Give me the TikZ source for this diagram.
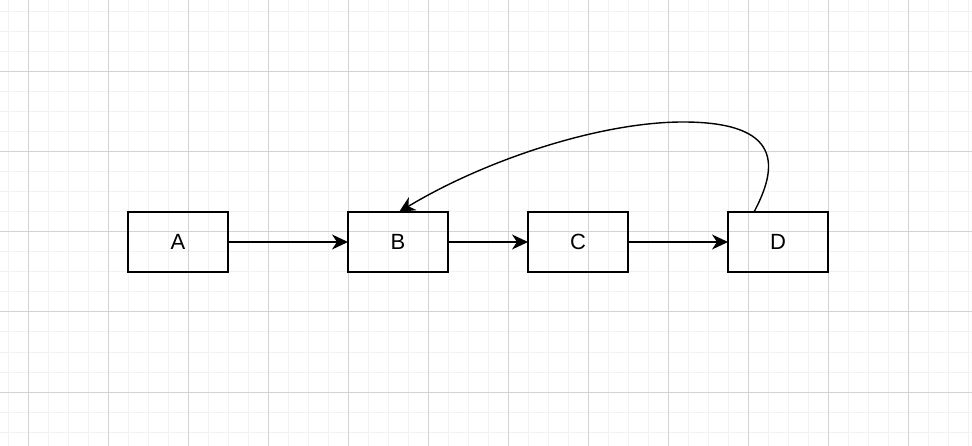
\documentclass[tikz,border=0pt]{standalone}
\usepackage{fontspec}
\setmainfont{Liberation Sans}
\usetikzlibrary{arrows.meta,calc,positioning}
\definecolor{gridminor}{HTML}{F2F2F2}
\definecolor{gridmajor}{HTML}{D3D3D3}
\tikzset{pin/.style={line width=1.4pt, -{Stealth[length=16pt, width=15pt, inset=5pt]}},
  blk/.style={draw, line width=1.6pt, minimum width=100pt, minimum height=60pt,
    inner sep=0pt, outer sep=0pt, font=\fontsize{22}{24}\selectfont}}

\begin{document}
\begin{tikzpicture}[x=1pt, y=-1pt]
  \fill[white] (0,0) rectangle (972,446);
  \useasboundingbox (0,0) rectangle (972,446);
  % grid paper
  \foreach \x in {8,28,...,968} \draw[gridminor, line width=1pt] (\x,0) -- (\x,446);
  \foreach \y in {12,32,...,446} \draw[gridminor, line width=1pt] (0,\y) -- (972,\y);
  \foreach \x in {28,108,...,968} \draw[gridmajor, line width=1pt] (\x,0) -- (\x,446);
  \foreach \y in {72,152,...,446} \draw[gridmajor, line width=1pt] (0,\y) -- (972,\y);
  \node[blk] (a) at (178,242) {A};
  \node[blk, right=120pt of a] (b) {B};
  \node[blk, right=80pt of b] (c) {C};
  \node[blk, right=100pt of c] (d) {D};
  \draw[pin] (a) -- (b);
  \draw[pin] (b) -- (c);
  \draw[pin] (c) -- (d);
  % loop from D back over the top into B
  \coordinate (top) at ($(d.north)+(-95,-90)$);
  \draw[pin] ($(d.north)+(-24,0)$) .. controls +(24,-45) and +(100,0) .. (top)
    .. controls +(-83,0) and +(86,-52) .. ($(b.north)+(1,0)$);
\end{tikzpicture}
\end{document}
